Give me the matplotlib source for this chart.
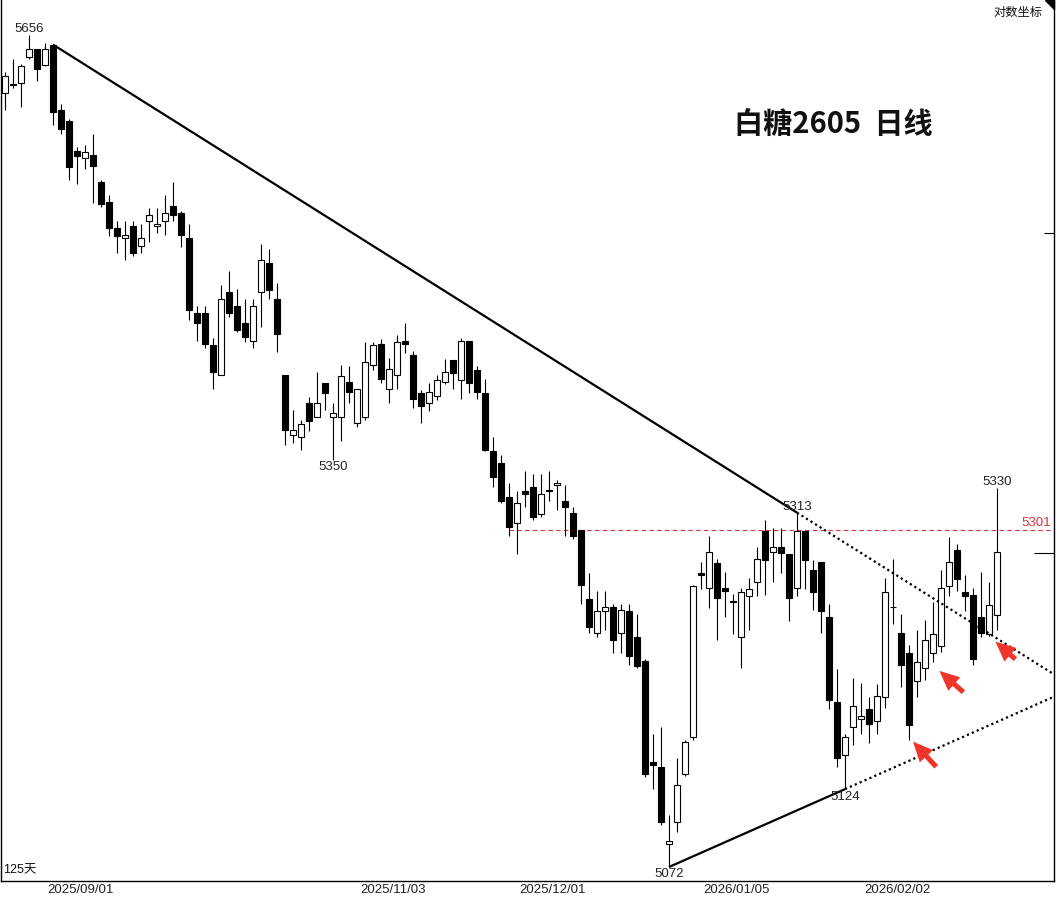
import numpy as np
import matplotlib
matplotlib.use("Agg")
import matplotlib.pyplot as plt
from matplotlib.patches import Polygon

# ---------------- data ----------------
opens = [5613, 5620, 5621, 5640, 5646, 5634, 5649, 5601, 5593, 5571,
         5566, 5568, 5548, 5534, 5515, 5508, 5516, 5502, 5520, 5516,
         5520, 5531, 5526, 5508, 5454, 5454, 5431, 5410, 5469, 5459,
         5447, 5434, 5469, 5490, 5464, 5410, 5367, 5366, 5390, 5380,
         5404, 5380, 5380, 5405, 5376, 5380, 5417, 5432, 5400, 5410,
         5434, 5424, 5397, 5390, 5395, 5405, 5420, 5406, 5434, 5413,
         5397, 5356, 5348, 5324, 5306, 5328, 5331, 5312, 5329, 5332,
         5321, 5313, 5301, 5253, 5230, 5245, 5248, 5230, 5245, 5227,
         5211, 5142, 5139, 5087, 5102, 5134, 5159, 5271, 5261, 5278,
         5261, 5252, 5227, 5255, 5265, 5300, 5286, 5289, 5284, 5261,
         5300, 5273, 5279, 5241, 5183, 5147, 5166, 5171, 5178, 5170,
         5186, 5248, 5230, 5216, 5197, 5206, 5216, 5221, 5262, 5287,
         5258, 5256, 5241, 5229, 5242]
highs = [5629, 5638, 5635, 5656, 5646, 5650, 5649, 5605, 5594, 5574,
         5575, 5583, 5550, 5539, 5520, 5520, 5520, 5518, 5529, 5529,
         5539, 5548, 5527, 5518, 5459, 5459, 5436, 5474, 5484, 5471,
         5464, 5464, 5503, 5500, 5475, 5410, 5385, 5378, 5394, 5412,
         5404, 5390, 5417, 5416, 5400, 5433, 5433, 5435, 5422, 5438,
         5447, 5427, 5399, 5404, 5410, 5421, 5420, 5436, 5434, 5416,
         5407, 5366, 5353, 5334, 5328, 5342, 5340, 5340, 5342, 5336,
         5332, 5317, 5301, 5271, 5259, 5259, 5250, 5250, 5250, 5243,
         5212, 5161, 5166, 5107, 5145, 5157, 5263, 5279, 5297, 5281,
         5272, 5257, 5261, 5268, 5289, 5308, 5302, 5302, 5284, 5313,
         5300, 5280, 5279, 5250, 5205, 5161, 5199, 5196, 5186, 5195,
         5268, 5281, 5243, 5222, 5232, 5239, 5251, 5273, 5296, 5291,
         5270, 5261, 5272, 5265, 5330]
lows = [5601, 5617, 5603, 5638, 5622, 5633, 5590, 5583, 5550, 5547,
        5558, 5533, 5530, 5509, 5497, 5492, 5495, 5497, 5505, 5511,
        5510, 5520, 5501, 5449, 5434, 5429, 5400, 5410, 5451, 5440,
        5433, 5429, 5444, 5464, 5426, 5360, 5362, 5357, 5370, 5380,
        5385, 5350, 5363, 5390, 5373, 5378, 5413, 5404, 5390, 5400,
        5425, 5386, 5376, 5384, 5392, 5403, 5400, 5393, 5397, 5393,
        5356, 5331, 5320, 5297, 5284, 5317, 5308, 5310, 5321, 5315,
        5297, 5295, 5250, 5230, 5227, 5232, 5216, 5216, 5208, 5206,
        5132, 5124, 5100, 5072, 5095, 5133, 5157, 5260, 5247, 5225,
        5241, 5229, 5206, 5232, 5255, 5256, 5265, 5271, 5238, 5255,
        5260, 5246, 5230, 5178, 5139, 5124, 5154, 5161, 5155, 5161,
        5179, 5236, 5193, 5157, 5186, 5198, 5210, 5217, 5255, 5259,
        5245, 5208, 5227, 5228, 5232]
closes = [5626, 5619, 5633, 5646, 5631, 5646, 5599, 5587, 5559, 5567,
          5570, 5560, 5532, 5515, 5509, 5510, 5497, 5508, 5524, 5518,
          5526, 5524, 5510, 5456, 5447, 5432, 5412, 5464, 5454, 5442,
          5437, 5459, 5492, 5470, 5439, 5371, 5371, 5375, 5377, 5390,
          5397, 5383, 5409, 5398, 5400, 5419, 5431, 5407, 5414, 5433,
          5432, 5393, 5388, 5398, 5406, 5412, 5411, 5434, 5404, 5398,
          5357, 5338, 5321, 5303, 5320, 5326, 5310, 5326, 5328, 5334,
          5317, 5297, 5263, 5234, 5245, 5248, 5225, 5246, 5214, 5207,
          5134, 5140, 5102, 5089, 5127, 5156, 5262, 5270, 5286, 5254,
          5259, 5251, 5258, 5260, 5281, 5280, 5289, 5285, 5254, 5300,
          5280, 5258, 5245, 5184, 5145, 5159, 5180, 5173, 5168, 5187,
          5258, 5248, 5208, 5167, 5210, 5225, 5229, 5261, 5279, 5267,
          5255, 5212, 5230, 5249, 5286]

date_idx = [9, 48, 68, 91, 111]
date_labels = ["2025/09/01", "2025/11/03", "2025/12/01", "2026/01/05", "2026/02/02"]

# extreme-point labels: (candle index, price, above?)
point_labels = [(3, 5656, True), (41, 5350, False), (99, 5313, True),
                (83, 5072, False), (105, 5124, False), (124, 5330, True)]

resist_level = 5301
resist_start = 63

upper_line_idx = [6, 99]
upper_line_val = [5649, 5313]
lower_line_idx = [83, 105]
lower_line_val = [5072, 5124]

# red arrows: (tip index, tip price, tail index, tail price)
arrows = [(113.5, 5156, 116.4, 5139),
          (116.8, 5204, 119.8, 5189.5),
          (123.8, 5224, 126.3, 5212)]

title = "白糖2605  日线"

# ---------------- figure ----------------
W, H = 1057, 899
fig = plt.figure(figsize=(W / 100, H / 100), dpi=100)
fig.patch.set_facecolor("white")
ax = fig.add_axes([1 / W, 18 / H, 1053 / W, 881 / H])
ax.set_yscale("log")
XMAX = 131.125
ax.set_xlim(-0.5, XMAX)
ax.set_ylim(5062.7, 5682.1)

o = np.array(opens, float)
h = np.array(highs, float)
l = np.array(lows, float)
c = np.array(closes, float)
x = np.arange(len(o))
up = c >= o
blo = np.minimum(o, c)
bhi = np.maximum(o, c)

ax.vlines(x, l, blo, color="black", lw=0.8, zorder=2)
ax.vlines(x, bhi, h, color="black", lw=0.8, zorder=2)
ax.bar(x, np.maximum(bhi - blo, 0.01), bottom=blo, width=0.78,
       color=np.where(up, "white", "black"), edgecolor="black",
       linewidth=0.8, zorder=3)

# trend lines (solid part, dotted extension)
def extend(ix, vals, xend):
    k = (np.log(vals[1]) - np.log(vals[0])) / (ix[1] - ix[0])
    return np.exp(np.log(vals[1]) + k * (xend - ix[1]))

for ix, vals in [(upper_line_idx, upper_line_val), (lower_line_idx, lower_line_val)]:
    ax.plot(ix, vals, color="black", lw=1.6, zorder=4, solid_capstyle="butt")
    ax.plot([ix[1], XMAX], [vals[1], extend(ix, vals, XMAX)], color="black",
            lw=1.6, ls=(0, (1.0, 1.4)), zorder=4)

# resistance line
ax.hlines(resist_level, resist_start, XMAX, colors="#e0323c", lw=0.8,
          linestyles=(0, (4, 3)), zorder=1)
ax.annotate(str(resist_level), xy=(1, resist_level), xycoords=("axes fraction", "data"),
            xytext=(-2, 1), textcoords="offset points", ha="right", va="bottom",
            color="#d8323c", fontsize=9.5, family="Liberation Sans")

# extreme labels
for i, v, above in point_labels:
    ax.annotate(str(v), xy=(i, v), xytext=(0, 0 if above else -1),
                textcoords="offset points", ha="center",
                va="bottom" if above else "top", fontsize=9.5,
                family="Liberation Sans", color="#222222", zorder=6)

# arrows
for tx, tp, sx, sp in arrows:
    ax.annotate("", xy=(tx, tp), xytext=(sx, sp),
                arrowprops=dict(arrowstyle="simple,head_length=1.1,head_width=1.0,tail_width=0.28",
                                color="#f0362a", lw=0, shrinkA=0, shrinkB=0,
                                mutation_scale=13), zorder=7)

# axes styling
ax.spines["top"].set_visible(False)
for s in ["left", "right", "bottom"]:
    ax.spines[s].set_linewidth(1.0)
    ax.spines[s].set_color("black")
ax.yaxis.tick_right()
ax.set_yticks([5285.2])
ax.set_yticks([5511.3], minor=True)
ax.yaxis.set_major_formatter(plt.NullFormatter())
ax.yaxis.set_minor_formatter(plt.NullFormatter())
ax.tick_params(axis="y", which="major", direction="in", length=14.5, width=0.8, colors="black")
ax.tick_params(axis="y", which="minor", direction="in", length=7.5, width=0.8, colors="black")
ax.yaxis.set_tick_params(which="both", left=False, right=True)

ax.set_xticks([d + 0.5 for d in date_idx])
ax.set_xticklabels(date_labels, fontsize=9.5, family="Liberation Sans", color="#222222")
ax.tick_params(axis="x", length=0, pad=2.5)

# texts
fig.text(833 / W, 1 - 124 / H, title, ha="center", va="center", fontsize=21,
         fontweight="bold", family=["Noto Sans CJK SC", "DejaVu Sans"], color="#111111")
ax.text(0.002, 0.005, "125天", transform=ax.transAxes, ha="left", va="bottom",
        fontsize=9, family=["Liberation Sans", "Noto Sans CJK SC"], color="#111111")
fig.text(1042 / W, 1 - 12 / H, "对数坐标", ha="right", va="center", fontsize=8.8,
         family=["Noto Sans CJK SC", "DejaVu Sans"], color="#111111")
tri = Polygon([[1045 / W, 1.0], [1054 / W, 1.0], [1054 / W, 1 - 9 / H]],
              closed=True, transform=fig.transFigure, color="black")
fig.patches.append(tri)

fig.savefig("out.png", dpi=100, facecolor="white")
